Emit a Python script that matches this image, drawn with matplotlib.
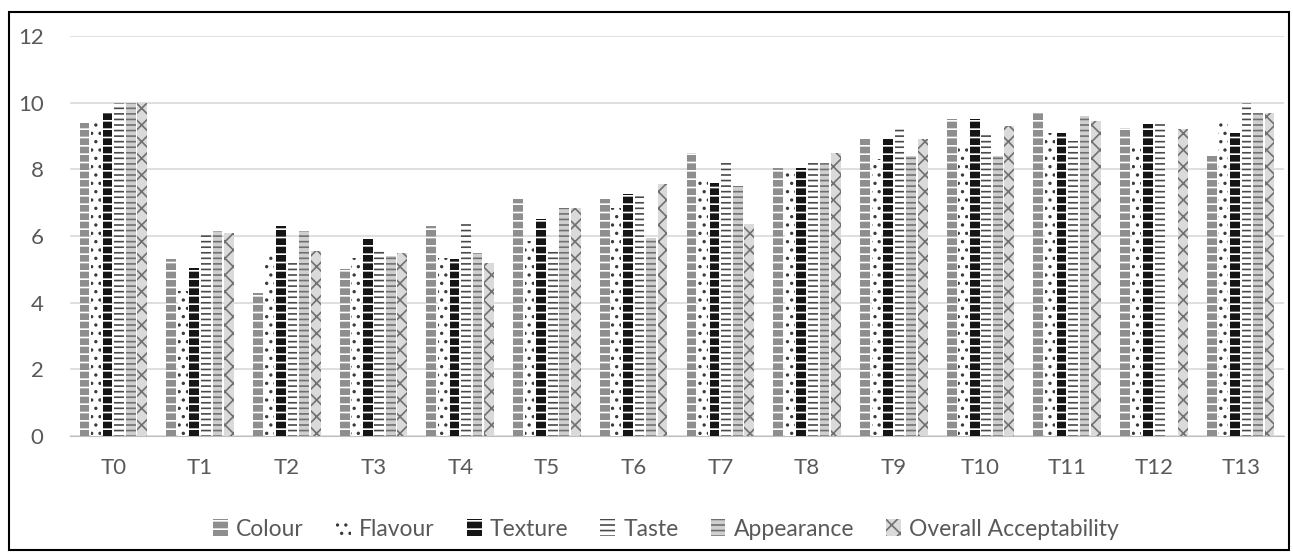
#!/usr/bin/env python3

import numpy as np
import matplotlib.pyplot as plt
from matplotlib.patches import Rectangle

# sensory scores per treatment
treatments = ["T0", "T1", "T2", "T3", "T4", "T5", "T6", "T7", "T8", "T9", "T10", "T11", "T12", "T13"]
colour = [9.4, 5.3, 4.3, 5.0, 6.3, 7.1, 7.1, 8.5, 8.05, 8.9, 9.5, 9.7, 9.25, 8.4]
flavour = [9.4, 4.35, 5.5, 5.35, 5.35, 5.85, 6.85, 7.7, 7.9, 8.3, 8.75, 9.1, 8.7, 9.5]
texture = [9.7, 5.05, 6.3, 5.9, 5.3, 6.5, 7.25, 7.6, 8.05, 8.9, 9.5, 9.1, 9.35, 9.1]
taste = [10.0, 6.1, 5.25, 5.55, 6.35, 5.55, 7.25, 8.25, 8.2, 9.2, 9.1, 8.85, 9.35, 10.0]
appearance = [10.0, 6.15, 6.15, 5.4, 5.5, 6.85, 5.95, 7.5, 8.2, 8.4, 8.4, 9.6, 0.0, 9.7]
overall = [10.0, 6.1, 5.55, 5.5, 5.2, 6.85, 7.55, 6.35, 8.5, 8.9, 9.3, 9.45, 9.2, 9.7]

series = [
    ("Colour", colour, "#8e8e8e", "white", "--"),
    ("Flavour", flavour, "white", "#3a3a3a", ".."),
    ("Texture", texture, "#151515", "white", "--"),
    ("Taste", taste, "white", "#4a4a4a", "---"),
    ("Appearance", appearance, "#cfcfcf", "#707070", "---"),
    ("Overall Acceptability", overall, "#dadada", "#707070", "xx"),
]

plt.rcParams['font.family'] = ['Lato', 'DejaVu Sans']
plt.rcParams['hatch.linewidth'] = 1.2

fig = plt.figure(figsize=(12.93, 5.53), dpi=100)
ax = fig.add_axes([70 / 1293, 1 - 436 / 553, 1214 / 1293, 400 / 553])

x = np.arange(len(treatments))
width = 0.8 / len(series)
for i, (name, vals, face, hcol, hatch) in enumerate(series):
    pos = x - 0.4 + width * (i + 0.5)
    ax.bar(pos, vals, width * 0.85, color=face, edgecolor=hcol, hatch=hatch,
           linewidth=0, label=name, zorder=3)

ax.set_xlim(-0.5, len(treatments) - 0.5)
ax.set_ylim(0, 12)
ax.set_yticks(np.arange(0, 13, 2))
ax.set_xticks(x)
ax.set_xticklabels(treatments)
ax.grid(axis="y", color="#d9d9d9", linewidth=1.2, zorder=0)
for side in ["top", "right", "left"]:
    ax.spines[side].set_visible(False)
ax.spines["bottom"].set_color("#bfbfbf")
ax.tick_params(length=0, labelsize=16, colors="#595959")
ax.tick_params(axis="x", pad=16)
ax.tick_params(axis="y", pad=19)

leg = fig.legend(loc="center", bbox_to_anchor=(666 / 1293, 1 - 529 / 553), ncol=6,
                 frameon=False, fontsize=16.5, handlelength=0.65, handleheight=0.75,
                 handletextpad=0.35, columnspacing=1.4)
for t in leg.get_texts():
    t.set_color("#595959")

# outer frame
fig.patches.append(Rectangle((9 / 1293, 3 / 553), 1280 / 1293, 538 / 553, transform=fig.transFigure,
                             fill=False, edgecolor="black", linewidth=1.5))

plt.savefig("out.png", dpi=100)
